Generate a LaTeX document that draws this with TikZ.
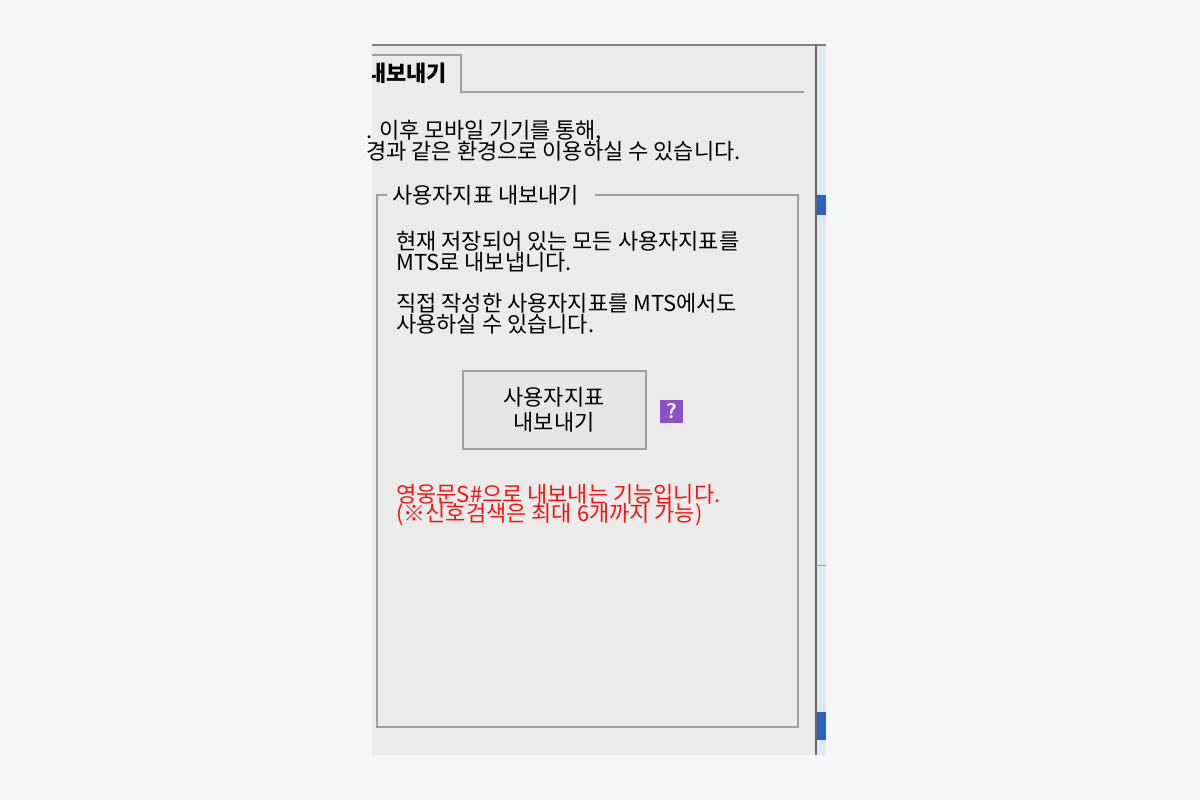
\documentclass[tikz,border=0pt]{standalone}
\usepackage{fontspec}
\newfontfamily\krfont{Noto Sans CJK KR}
\definecolor{panelgray}{RGB}{235,235,235}
\definecolor{pagebg}{RGB}{245,246,248}
\definecolor{edgegray}{RGB}{160,160,160}
\definecolor{wred}{RGB}{240,20,20}
\definecolor{qpurple}{RGB}{140,80,200}
\definecolor{stripblue}{RGB}{225,232,242}
\definecolor{selblue}{RGB}{40,100,200}
\tikzset{
  txt/.style={anchor=west, inner sep=0pt, font=\krfont\fontsize{12.5}{14}\selectfont},
  box/.style={draw=edgegray, line width=0.8pt}
}
\begin{document}
\begin{tikzpicture}[x=0.02cm, y=-0.02cm]
    \useasboundingbox (0,0) rectangle (1200,800);
    \fill[pagebg] (0,0) rectangle (1200,800);
    % Panel
    \fill[panelgray] (372,45) rectangle (816,755);
    \fill[stripblue] (816,45) rectangle (826,755);
    \fill[selblue] (817,195) rectangle (826,215);
    \fill[selblue] (817,712) rectangle (826,740);
    \draw[gray, line width=1pt] (372,45) -- (826,45);
    \draw[gray!80!black, line width=1pt] (816,45) -- (816,755);
    \draw[edgegray] (816,565) -- (826,565);
    % Tab
    \draw[box] (372,55) -- (461,55) -- (461,92) -- (804,92);
    \begin{scope}
        \clip (372,45) rectangle (461,92);
        \node[txt] (tab) at (366,73) {\bfseries 내보내기};
    \end{scope}
    % Intro text
    \node[txt] (introa) at (366,131) {. 이후 모바일 기기를 통해,};
    \node[txt] (introb) at (366,151) {경과 같은 환경으로 이용하실 수 있습니다.};
    % Group box
    \draw[box] (387,195) -- (377,195) -- (377,727) -- (798,727) -- (798,195) -- (595,195);
    \node[txt] (grp) at (392,195) {사용자지표 내보내기};
    \node[txt] (ta) at (396,241) {현재 저장되어 있는 모든 사용자지표를};
    \node[txt] (tb) at (396,262) {MTS로 내보냅니다.};
    \node[txt] (tc) at (396,303) {직접 작성한 사용자지표를 MTS에서도};
    \node[txt] (td) at (396,324) {사용하실 수 있습니다.};
    % Button
    \draw[box, fill=panelgray!95!gray] (463,371) rectangle (646,449);
    \node[txt, anchor=center, align=center] (btn) at (554,410) {사용자지표\\내보내기};
    \fill[qpurple] (660,400) rectangle (683,423);
    \node[anchor=center, text=white, font=\sffamily\bfseries\large] (help) at (671.5,411.5) {?};
    % Red note
    \node[txt, text=wred] (na) at (396,494) {영웅문S\#으로 내보내는 기능입니다.};
    \node[txt, text=wred] (nb) at (396,515) {(※신호검색은 최대 6개까지 가능)};
\end{tikzpicture}
\end{document}
